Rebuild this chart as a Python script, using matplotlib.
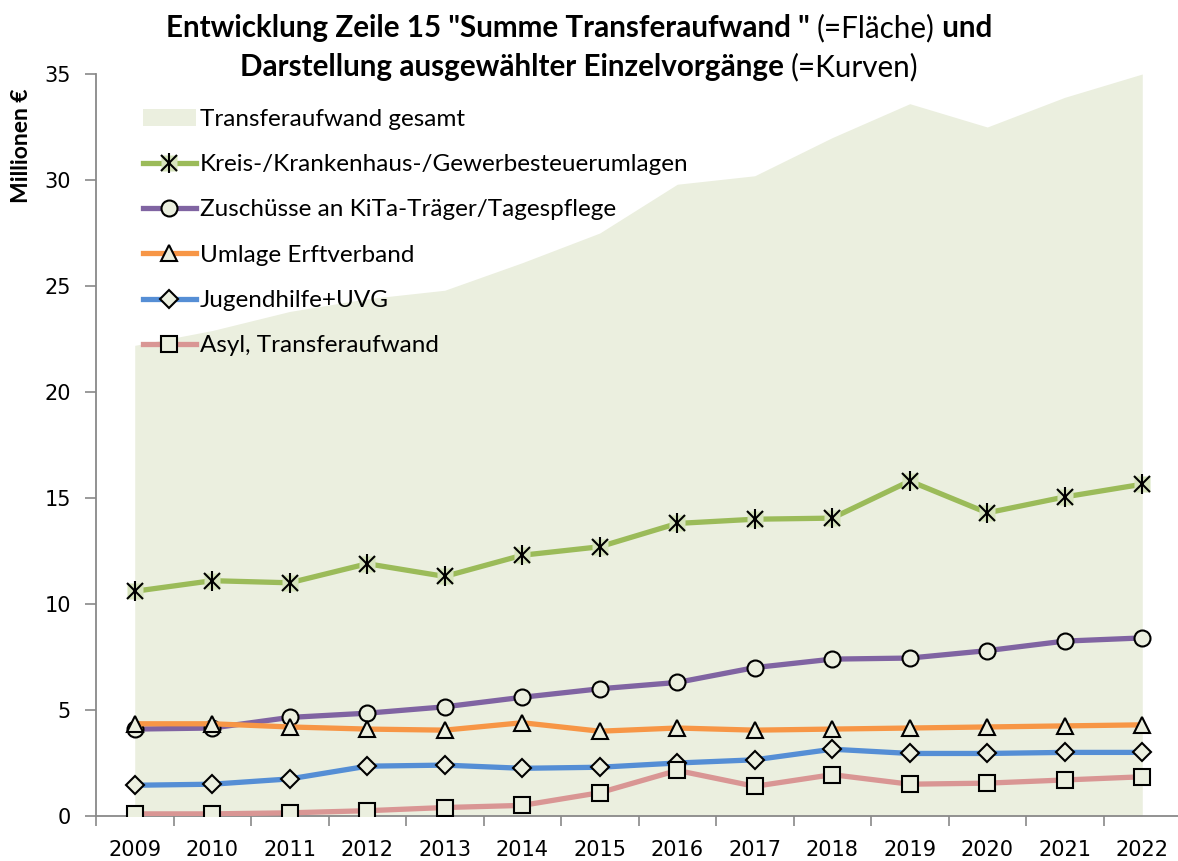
import matplotlib
matplotlib.use("Agg")
import matplotlib.pyplot as plt
from matplotlib.patches import Patch
from matplotlib.lines import Line2D
import numpy as np

years = [2009, 2010, 2011, 2012, 2013, 2014, 2015, 2016, 2017, 2018, 2019, 2020, 2021, 2022]
gesamt = [22.2, 22.9, 23.8, 24.4, 24.8, 26.1, 27.5, 29.8, 30.2, 32.0, 33.6, 32.5, 33.9, 35.0]
kreis = [10.6, 11.1, 11.0, 11.9, 11.3, 12.3, 12.7, 13.8, 14.0, 14.05, 15.8, 14.3, 15.05, 15.65]
kita = [4.1, 4.15, 4.65, 4.85, 5.15, 5.6, 6.0, 6.3, 7.0, 7.4, 7.45, 7.8, 8.25, 8.4]
erft = [4.35, 4.35, 4.2, 4.1, 4.05, 4.4, 4.0, 4.15, 4.05, 4.1, 4.15, 4.2, 4.25, 4.3]
jugend = [1.45, 1.5, 1.75, 2.35, 2.4, 2.25, 2.3, 2.5, 2.65, 3.15, 2.95, 2.95, 3.0, 3.0]
asyl = [0.1, 0.1, 0.15, 0.25, 0.4, 0.5, 1.1, 2.15, 1.4, 1.95, 1.5, 1.55, 1.7, 1.85]

labels = ["Transferaufwand gesamt",
          "Kreis-/Krankenhaus-/Gewerbesteuerumlagen",
          "Zuschüsse an KiTa-Träger/Tagespflege",
          "Umlage Erftverband",
          "Jugendhilfe+UVG",
          "Asyl, Transferaufwand"]

AREA = "#EBEFDF"
FONT = "Lato"
W, H = 1178, 861
fig = plt.figure(figsize=(W/100, H/100), dpi=100)
left, right, top, bottom = 96, 1181, 74, 816
ax = fig.add_axes([left/W, 1-bottom/H, (right-left)/W, (bottom-top)/H])

x = np.arange(len(years))
ax.fill_between(x, 0, gesamt, color=AREA, lw=0, zorder=1)

series = [
    (kreis, "#9BBB59", "star"),
    (kita, "#8064A2", "o"),
    (erft, "#F79646", "^"),
    (jugend, "#558ED5", "D"),
    (asyl, "#D99694", "s"),
]
lw = 3.8
handles = [Patch(facecolor=AREA, edgecolor="none")]
for vals, col, mk in series:
    if mk == "star":
        ax.plot(x, vals, color=col, lw=lw, zorder=3, solid_joinstyle="round")
        ax.plot(x, vals, ls="none", marker="s", ms=11, mfc="#D7E4BD", mec="none", zorder=4)
        ax.plot(x, vals, ls="none", marker="x", ms=11, mec="black", mew=1.5, zorder=5)
        ax.plot(x, vals, ls="none", marker="|", ms=15, mec="black", mew=1.5, zorder=5)
        h = (Line2D([], [], color=col, lw=lw),
             Line2D([], [], ls="none", marker="s", ms=11, mfc="#D7E4BD", mec="none"),
             Line2D([], [], ls="none", marker="x", ms=11, mec="black", mew=1.5),
             Line2D([], [], ls="none", marker="|", ms=15, mec="black", mew=1.5))
        handles.append(h)
    else:
        ms = {"o": 11.5, "^": 11.5, "D": 9, "s": 11}[mk]
        ax.plot(x, vals, color=col, lw=lw, marker=mk, ms=ms, mfc=AREA, mec="black",
                mew=1.5, zorder=3, solid_joinstyle="round")
        handles.append(Line2D([], [], color=col, lw=lw, marker=mk, ms=ms, mfc=AREA,
                              mec="black", mew=1.5))

ax.set_xlim(-0.5, len(years)-0.5)
ax.set_ylim(0, 35)
ax.set_yticks(np.arange(0, 36, 5))
ax.set_yticklabels([str(v) for v in range(0, 36, 5)], fontfamily="DejaVu Sans", fontsize=15)
ax.set_xticks(x)
ax.set_xticklabels([str(y) for y in years], fontfamily="DejaVu Sans", fontsize=15)
ax.tick_params(axis="x", which="major", length=0, pad=17)
ax.set_xticks(np.arange(-0.5, len(years), 1.0), minor=True)
ax.tick_params(axis="x", which="minor", length=7, color="#898989", width=1.2, direction="out")
ax.tick_params(axis="y", length=8, color="#898989", width=1.2, direction="out", pad=10)
for s in ["top", "right"]:
    ax.spines[s].set_visible(False)
for s in ["left", "bottom"]:
    ax.spines[s].set_color("#898989")
    ax.spines[s].set_linewidth(1.3)
ax.set_facecolor("none")

fig.text(22/W, 1-146/H, "Millionen €", rotation=90, ha="center", va="center",
         fontfamily=FONT, fontweight="bold", fontsize=16.5)

leg = ax.legend(handles, labels, loc="upper left",
                bbox_to_anchor=((133-left)/(right-left), (bottom-99)/(bottom-top)),
                frameon=False, prop={"family": FONT, "size": 17.5}, handlelength=2.2,
                handletextpad=0.15, labelspacing=1.0, borderaxespad=0)

# title with mixed weights
renderer = fig.canvas.get_renderer()
title_lines = [
    [("Entwicklung Zeile 15 \"Summe Transferaufwand \" ", "bold"), ("(=Fläche)", "normal"), (" und", "bold")],
    [("Darstellung ausgewählter Einzelvorgänge ", "bold"), ("(=Kurven)", "normal")],
]
ys = [28, 67]
cx = 579
for parts, yy in zip(title_lines, ys):
    texts = []
    for s, wgt in parts:
        t = fig.text(0, 1-yy/H, s, fontfamily=FONT, fontweight=wgt, fontsize=21.3,
                     ha="left", va="center")
        texts.append(t)
    widths = [t.get_window_extent(renderer).width for t in texts]
    total = sum(widths)
    xpos = cx - total/2
    for t, w in zip(texts, widths):
        t.set_x(xpos/W)
        xpos += w

fig.savefig("out.png", dpi=100)
